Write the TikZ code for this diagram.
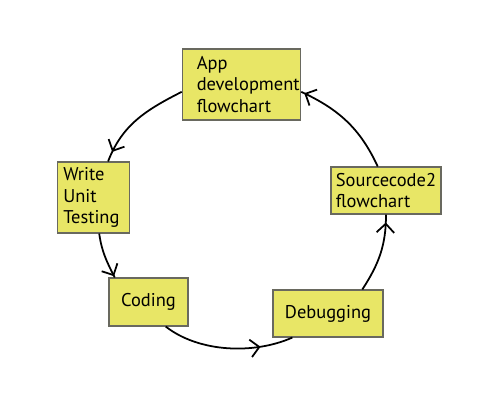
\documentclass[tikz,border=0pt]{standalone}
\usepackage{fontspec}
\setmainfont{PT Sans}
\usetikzlibrary{positioning}
\usetikzlibrary{arrows.meta}
\usetikzlibrary{decorations.markings}
\definecolor{boxfill}{RGB}{232,230,102}
\definecolor{boxline}{RGB}{105,105,95}
\tikzset{flow/.style={line width=1pt, postaction={decorate, decoration={markings, mark=at position #1 with {\arrow{Straight Barb[length=5pt,width=10pt]}}}}}}

\begin{document}
\begin{tikzpicture}
\tikzstyle{block}=[draw=boxline, line width=0.6pt, fill=boxfill, align=left, inner sep=0pt, font=\fontsize{10.5}{12.4}\selectfont]
\useasboundingbox (0,0) rectangle (10,8);
\node[block, inner xsep=0.29cm, text width=1.79cm, minimum height=1.42cm] (app) at (4.83,6.31) {App\\development\\flowchart};
\node[block, inner xsep=0.106cm, text width=1.21cm, minimum height=1.42cm] (write) at (1.87,4.05) {Write\\Unit\\Testing};
\node[block, minimum width=1.58cm, minimum height=0.96cm] (coding) at (2.97,1.96) {Coding};
\node[block, minimum width=2.2cm, minimum height=0.94cm] (debug) at (6.56,1.73) {Debugging};
\node[block, minimum width=2.2cm, minimum height=0.94cm] (src) at (7.72,4.19) {Sourcecode2\\flowchart};
%arrows round the cycle
\draw[flow=0.9] (app.187) to[out=207,in=69] (write.68);
\draw[flow=0.97] (write.279) to[out=278,in=117] (coding.144);
\draw[flow=0.75] (coding.305) to[out=322,in=204,looseness=0.85] (debug.214);
\draw[flow=0.9] (debug.35) to[out=57,in=270] (src.south);
\draw[flow=0.97] (src.109) to[out=115,in=335] (app.-7);
\end{tikzpicture}
\end{document}
